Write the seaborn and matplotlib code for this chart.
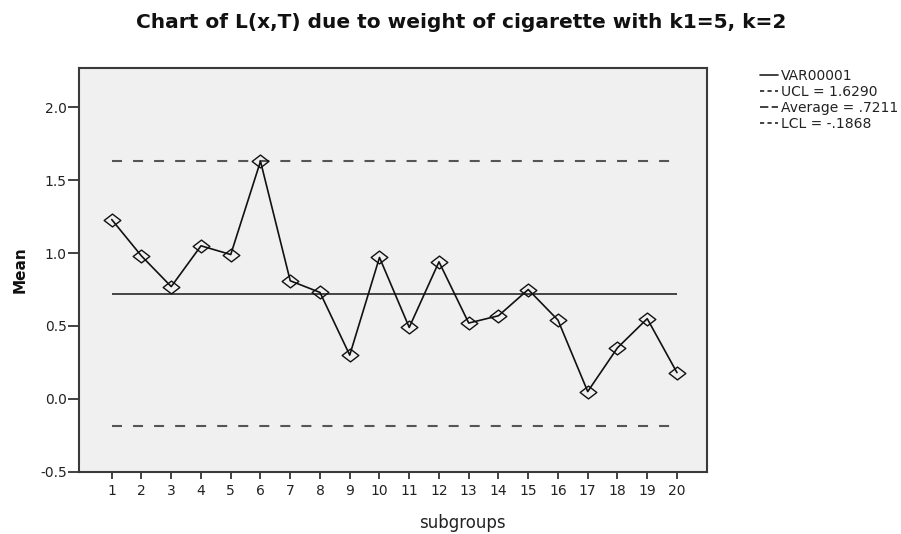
import matplotlib
matplotlib.use("Agg")
import matplotlib.pyplot as plt
import seaborn as sns
import pandas as pd
from matplotlib.lines import Line2D
from matplotlib.path import Path
from matplotlib.markers import MarkerStyle

subgroups = list(range(1, 21))
means = [1.23, 0.98, 0.77, 1.05, 0.99, 1.63, 0.81, 0.73, 0.30, 0.97,
         0.49, 0.94, 0.52, 0.57, 0.75, 0.54, 0.05, 0.35, 0.55, 0.18]
ucl = 1.6290
average = 0.7211
lcl = -0.1868
legend_labels = ["VAR00001", "UCL = 1.6290", "Average = .7211", "LCL = -.1868"]
y_ticks = [-0.5, 0.0, 0.5, 1.0, 1.5, 2.0]

sns.set_style("white")
plt.rcParams["font.family"] = ["DejaVu Sans"]

df = pd.DataFrame({"subgroups": subgroups, "Mean": means})

# open diamond, a little wider than tall
diamond = MarkerStyle(Path([(-1.3, 0), (0, 1), (1.3, 0), (0, -1), (-1.3, 0)],
                           [Path.MOVETO, Path.LINETO, Path.LINETO, Path.LINETO, Path.CLOSEPOLY]))

fig = plt.figure(figsize=(9.01, 5.34), dpi=100)
ax = fig.add_axes([0.0877, 0.1161, 0.697, 0.7566])
ax.set_facecolor("#f0f0f0")

limit_color = "#555555"
dash = (0, (4.8, 5.3))
ax.hlines(ucl, subgroups[0], subgroups[-1], colors=limit_color, linestyles=dash, linewidth=1.5)
ax.hlines(lcl, subgroups[0], subgroups[-1], colors=limit_color, linestyles=dash, linewidth=1.5)
ax.hlines(average, subgroups[0], subgroups[-1], colors="#444444", linewidth=1.4)

sns.lineplot(data=df, x="subgroups", y="Mean", ax=ax, color="#111111", linewidth=1.2,
             marker=diamond, markersize=12, markerfacecolor="none",
             markeredgecolor="#111111", markeredgewidth=1.0)

ax.set_xlim(-0.10, 21.01)
ax.set_ylim(-0.502, 2.27)
ax.set_xticks(subgroups)
ax.set_xticklabels([str(s) for s in subgroups])
ax.set_yticks(y_ticks)
ax.set_yticklabels([f"{v:.1f}" for v in y_ticks])
ax.tick_params(axis="x", direction="out", length=5, width=1.2, color="#222222",
               labelsize=10, labelcolor="#222222", bottom=True, pad=3.6)
ax.tick_params(axis="y", direction="out", length=8, width=1.2, color="#222222",
               labelsize=10, labelcolor="#222222", left=True, pad=0.8)

for s in ax.spines.values():
    s.set_color("#3a3a3a")
    s.set_linewidth(1.5)

ax.set_xlabel("subgroups", fontsize=12, color="#222222", va="center")
ax.xaxis.set_label_coords(0.61, -0.126)
ax.set_ylabel("Mean", fontsize=11, fontweight="bold", color="#111111", va="center")
ax.yaxis.set_label_coords(-0.094, 0.5)

fig.text(0.5117, 0.9588, "Chart of L(x,T) due to weight of cigarette with k1=5, k=2",
         ha="center", va="center", fontsize=14.5, fontweight="bold", color="#111111")

handles = [
    Line2D([], [], color="#222222", linewidth=1.2),
    Line2D([], [], color="#222222", linewidth=1.2, linestyle=(0, (2.5, 2))),
    Line2D([], [], color="#222222", linewidth=1.2, linestyle=(0, (5, 2))),
    Line2D([], [], color="#222222", linewidth=1.2, linestyle=(0, (2.5, 2))),
]
fig.legend(handles, legend_labels, loc="upper left", bbox_to_anchor=(0.8435, 0.871),
           frameon=False, fontsize=10, handlelength=1.3, handletextpad=0.2,
           labelspacing=0.15, borderaxespad=0, borderpad=0, labelcolor="#222222")

fig.savefig("out.png", dpi=100)
